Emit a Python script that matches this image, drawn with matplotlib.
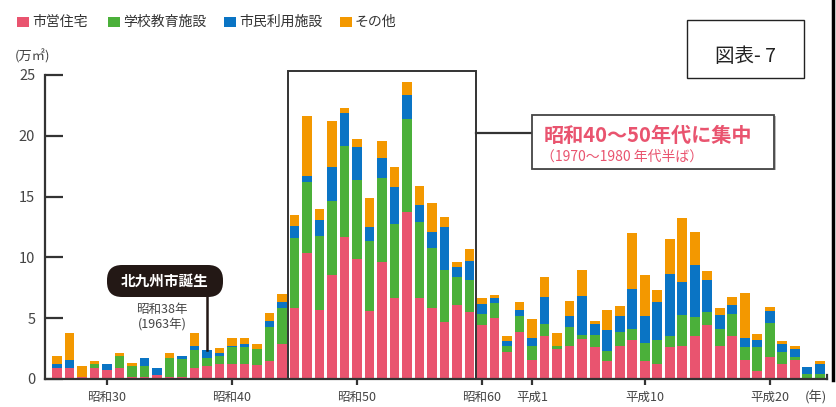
import matplotlib
matplotlib.use("Agg")
import matplotlib.pyplot as plt
from matplotlib.patches import Rectangle, FancyBboxPatch
from matplotlib.lines import Line2D
from matplotlib.transforms import Affine2D
import numpy as np

plt.rcParams['font.family'] = ['Noto Sans CJK JP', 'DejaVu Sans']

years = list(range(1951, 2013))
housing = [0.9, 0.9, 0.2, 0.9, 0.7, 0.9, 0.15, 0.15, 0.35, 0.15,
           0.2, 0.9, 1.05, 1.2, 1.2, 1.2, 1.15, 1.45, 2.9, 5.8,
           10.4, 5.7, 8.55, 11.7, 9.85, 5.6, 9.65, 6.7, 13.75, 6.7,
           5.8, 4.65, 6.05, 5.5, 4.45, 5.05, 2.25, 3.9, 1.6, 3.5,
           2.45, 2.75, 3.3, 2.6, 1.45, 2.75, 3.2, 1.45, 1.25, 2.6,
           2.75, 3.5, 4.4, 2.7, 3.55, 1.55, 0.65, 1.85, 1.25, 1.6,
           0.0, 0.0]
school = [0.0, 0.0, 0.0, 0.3, 0.0, 1.0, 0.9, 0.9, 0.0, 1.6,
          1.45, 1.45, 0.7, 0.7, 1.4, 1.45, 1.35, 2.85, 2.9, 5.8,
          5.8, 6.05, 6.05, 7.5, 6.55, 5.75, 6.85, 6.05, 7.65, 6.25,
          5.0, 4.3, 2.3, 2.65, 0.9, 1.2, 0.5, 1.25, 1.15, 1.0,
          0.3, 1.55, 0.35, 1.0, 0.85, 1.15, 0.9, 1.5, 1.95, 0.9,
          2.55, 1.6, 1.1, 1.45, 1.8, 1.05, 1.95, 2.75, 0.95, 0.2,
          0.45, 0.4]
civic = [0.3, 0.7, 0.0, 0.0, 0.5, 0.0, 0.0, 0.7, 0.55, 0.0,
         0.25, 0.4, 0.6, 0.25, 0.1, 0.2, 0.0, 0.5, 0.5, 0.95,
         0.5, 1.35, 2.8, 2.7, 2.65, 1.15, 1.65, 3.0, 1.95, 1.35,
         1.25, 3.55, 0.9, 1.55, 0.85, 0.4, 0.4, 0.55, 0.6, 2.25,
         0.0, 0.85, 3.2, 0.9, 1.7, 1.3, 3.3, 2.2, 3.1, 5.1,
         2.7, 4.3, 2.65, 1.15, 0.7, 0.8, 0.6, 1.0, 0.7, 0.7,
         0.55, 0.8]
other = [0.7, 2.15, 0.85, 0.3, 0.0, 0.2, 0.3, 0.0, 0.0, 0.35,
         0.0, 1.0, 0.0, 0.4, 0.65, 0.55, 0.4, 0.6, 0.65, 0.9,
         4.9, 0.9, 3.8, 0.35, 0.65, 2.4, 1.45, 1.65, 1.1, 1.6,
         2.4, 0.85, 0.35, 0.95, 0.5, 0.25, 0.4, 0.6, 1.55, 1.65,
         1.05, 1.25, 2.1, 0.3, 1.65, 0.8, 4.6, 3.4, 1.0, 2.95,
         5.25, 2.7, 0.75, 0.5, 0.7, 3.7, 0.5, 0.35, 0.25, 0.2,
         0.0, 0.25]

series_names = ['市営住宅', '学校教育施設', '市民利用施設', 'その他']
colors = ['#e9546f', '#4bb03a', '#0a74c4', '#f39800']

tick_years = [1955, 1965, 1975, 1985, 1989, 1998, 2008]
tick_labels = ['昭和30', '昭和40', '昭和50', '昭和60', '平成1', '平成10', '平成20']
y_ticks = [0, 5, 10, 15, 20, 25]

W, H = 836, 407
fig = plt.figure(figsize=(W / 100, H / 100), dpi=100)

def fx(px):
    return px / W

def fy(py):
    return 1 - py / H

ax = fig.add_axes([fx(45), fy(379), fx(827) - fx(45), fy(75) - fy(379)])
ax.set_xlim(1950.04, 2012.6)
ax.set_ylim(0, 25)

bottom = np.zeros(len(years))
for vals, c in zip([housing, school, civic, other], colors):
    v = np.array(vals)
    ax.bar(years, v, width=0.8, bottom=bottom, color=c, linewidth=0, zorder=2)
    bottom += v
totals = bottom

for s in ['top', 'right']:
    ax.spines[s].set_visible(False)
for s in ['left', 'bottom']:
    ax.spines[s].set_color('#333333')
    ax.spines[s].set_linewidth(1.6)

ax.set_yticks(y_ticks)
ax.set_yticklabels([str(t) for t in y_ticks], fontsize=10.5, color='#444444')
ax.tick_params(axis='y', direction='in', length=13, width=1.6, color='#333333', pad=7)
ax.set_xticks(tick_years)
ax.set_xticklabels(tick_labels, fontsize=9, color='#444444')
ax.tick_params(axis='x', direction='out', length=4.5, width=1.6, color='#333333', pad=4)

# small end mark on the x axis
ax.plot([2012.6, 2012.6], [0, 0.3], color='#333333', lw=1.6, clip_on=False)

# highlight rectangle
ax.add_patch(Rectangle((1969.5, 0), 15, 25.3, fill=False, edgecolor='#333333',
                       lw=1.4, clip_on=False, zorder=3))
ax.plot([1984.5, 1989], [20.2, 20.2], color='#333333', lw=1.6, clip_on=False, zorder=3)
# callout box (shadow + box)
ax.add_patch(Rectangle((1989.15, 17.15), 19.36, 4.45, facecolor='#bbbbbb',
                       edgecolor='none', clip_on=False, zorder=3))
ax.add_patch(Rectangle((1989, 17.3), 19.36, 4.45, facecolor='white',
                       edgecolor='#444444', lw=1.3, clip_on=False, zorder=4))
ax.text(1989.9, 20.05, '昭和40～50年代に集中', fontsize=14.5, fontweight='bold',
        color='#e9546f', ha='left', va='center', zorder=5)
ax.text(1989.75, 18.25, '（1970～1980 年代半ば）', fontsize=10,
        color='#e9546f', ha='left', va='center', zorder=5)

# city birth annotation (pill box in pixel coordinates)
fig.patches.append(FancyBboxPatch((107, H - 297), 116, 32,
                                  boxstyle='round,pad=0,rounding_size=15',
                                  facecolor='#231815', edgecolor='none',
                                  transform=Affine2D(), zorder=4))
fig.text(fx(165), fy(281), '北九州市誕生', fontsize=10.5, fontweight='bold',
         color='white', ha='center', va='center', zorder=6)
ax.plot([1963, 1963], [6.75, totals[years.index(1963)]], color='#231815', lw=1.8, zorder=4)
ax.text(1959.4, 5.75, '昭和38年', fontsize=9, color='#444444', ha='center', va='center')
ax.text(1959.4, 4.45, '(1963年)', fontsize=9, color='#444444', ha='center', va='center')

# axis unit labels
fig.text(fx(33), fy(56), '(万㎡)', fontsize=9.5, color='#444444', ha='center', va='center')
fig.text(fx(816), fy(398), '(年)', fontsize=9.5, color='#444444', ha='center', va='center')

# legend
leg_x = [17, 108, 224, 340]
for name, c, x0 in zip(series_names, colors, leg_x):
    fig.patches.append(Rectangle((fx(x0), fy(27)), 12 / W, 10 / H, facecolor=c,
                                 edgecolor='none', transform=fig.transFigure))
    fig.text(fx(x0 + 15), fy(22), name, fontsize=10, color='#333333',
             ha='left', va='center')

# figure label box
fig.patches.append(Rectangle((fx(687), fy(78)), (804 - 687) / W, (78 - 20) / H,
                             fill=False, edgecolor='#222222', lw=1.0,
                             transform=fig.transFigure))
fig.text(fx(745), fy(57), '図表- 7', fontsize=14, color='#222222', ha='center', va='center')

# right border line
fig.lines.append(Line2D([fx(833), fx(833)], [fy(380), 1.0], color='black', lw=2.5,
                        transform=fig.transFigure))

fig.savefig('out.png', dpi=100)
